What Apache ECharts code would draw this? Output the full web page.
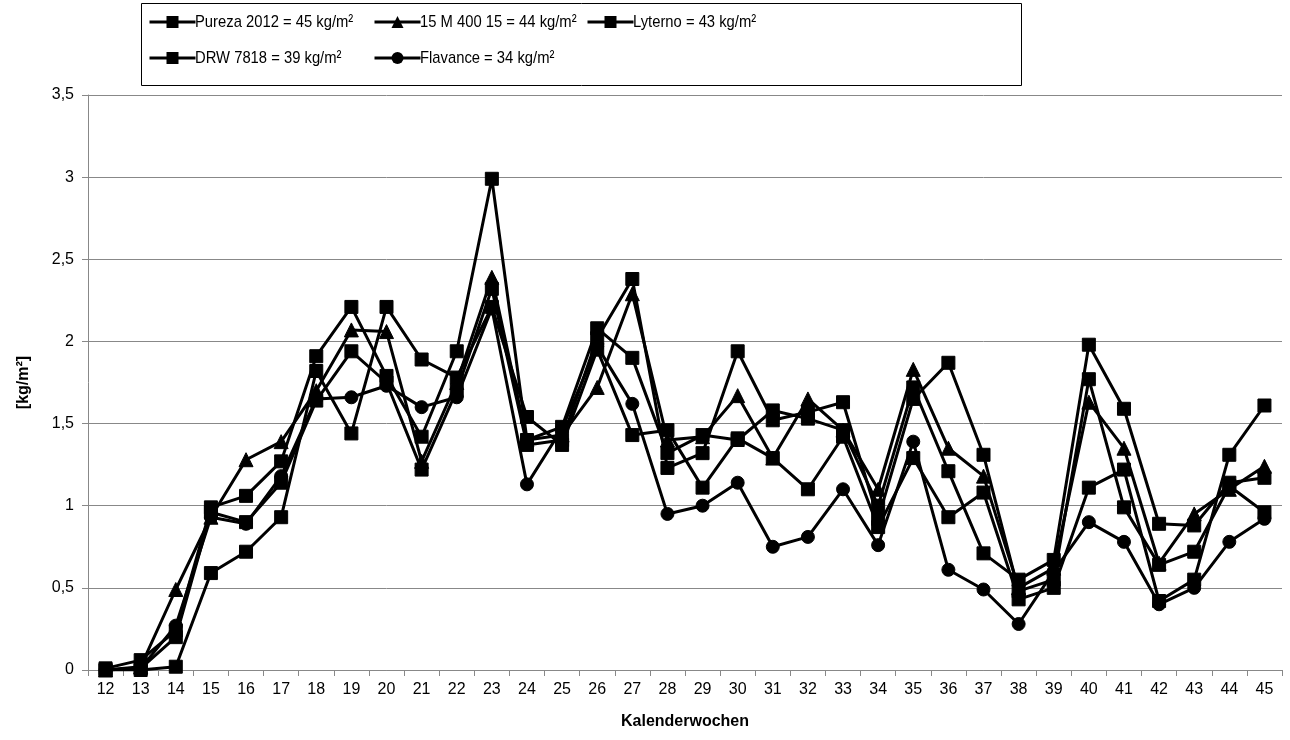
<!DOCTYPE html>
<html>
<head>
<meta charset="utf-8">
<script src="https://cdn.jsdelivr.net/npm/echarts@6/dist/echarts.min.js"></script>
<style>
  html, body { margin: 0; padding: 0; background: #fff; }
  #chart { width: 1290px; height: 740px; }
</style>
</head>
<body>
<div id="chart"></div>
<script>
// Calendar weeks on the x axis
const weeks = ['12','13','14','15','16','17','18','19','20','21','22','23','24','25','26','27','28',
               '29','30','31','32','33','34','35','36','37','38','39','40','41','42','43','44','45'];

// Weekly yield per variety [kg/m²]
const pureza   = [0.01,0.06,0.24,0.99,1.06,1.27,1.91,2.21,1.79,1.42,1.94,2.99,1.40,1.48,2.08,1.90,1.32,
                  1.43,1.40,1.58,1.53,1.46,1.00,1.72,1.21,0.71,0.55,0.67,1.98,1.59,0.89,0.88,1.14,1.17];
const m400     = [0.00,0.02,0.49,0.93,1.28,1.39,1.70,2.07,2.06,1.27,1.75,2.39,1.40,1.43,1.72,2.29,1.40,
                  1.42,1.67,1.29,1.65,1.46,1.10,1.83,1.35,1.18,0.50,0.62,1.63,1.35,0.65,0.95,1.10,1.24];
const lyterno  = [0.00,0.01,0.20,0.96,0.90,1.14,1.64,1.94,1.75,1.22,1.70,2.32,1.37,1.40,2.02,2.38,1.23,
                  1.32,1.94,1.52,1.57,1.63,0.92,1.65,1.87,1.31,0.48,0.55,1.77,0.99,0.64,0.72,1.12,0.96];
const drw      = [0.00,0.00,0.02,0.59,0.72,0.93,1.82,1.44,2.21,1.89,1.78,2.21,1.54,1.37,1.95,1.43,1.46,
                  1.11,1.41,1.29,1.10,1.42,0.87,1.29,0.93,1.08,0.43,0.50,1.11,1.22,0.42,0.55,1.31,1.61];
const flavance = [0.00,0.01,0.27,0.93,0.89,1.18,1.65,1.66,1.73,1.60,1.66,2.20,1.13,1.47,1.97,1.62,0.95,
                  1.00,1.14,0.75,0.81,1.10,0.76,1.39,0.61,0.49,0.28,0.60,0.90,0.78,0.40,0.50,0.78,0.92];

const names = ['Pureza 2012 = 45 kg/m²', '15 M 400 15 = 44 kg/m²', 'Lyterno = 43 kg/m²',
               'DRW 7818 = 39 kg/m²', 'Flavance = 34 kg/m²'];
const values = [pureza, m400, lyterno, drw, flavance];
const symbols = ['rect', 'triangle', 'rect', 'rect', 'circle'];
const symbolSizes = [13, 14, 13, 13, 13];

const FONT = '"Liberation Sans", Arial, sans-serif';
const chart = echarts.init(document.getElementById('chart'), null, { renderer: 'canvas' });

// legend slots (two rows, three columns): icon left edge, row centre
const legendPos = [[148, 22], [373, 22], [586, 22], [148, 58], [373, 58]];

// legend labels set in a condensed face (horizontally squeezed text)
const legendLabels = names.map((n, i) => ({
  type: 'text',
  x: legendPos[i][0] + 47,
  y: legendPos[i][1],
  scaleX: 0.87,
  silent: true,
  style: {
    text: n,
    fontFamily: FONT,
    fontSize: 17,
    fill: '#000',
    verticalAlign: 'middle',
    align: 'left'
  }
}));

const option = {
  animation: false,
  backgroundColor: '#ffffff',
  grid: { left: 88, right: 8, top: 95, bottom: 70, containLabel: false },
  legend: names.map((n, i) => ({
    data: [n],
    left: legendPos[i][0],
    top: legendPos[i][1] - 7.5,
    itemWidth: 46,
    itemHeight: 15,
    itemGap: 0,
    padding: 0,
    formatter: () => '',
    lineStyle: { width: 3, color: '#000' },
    itemStyle: { color: '#000' },
    textStyle: { fontFamily: FONT, fontSize: 16, color: '#000' },
    selectedMode: false
  })),
  graphic: [{
    type: 'rect',
    shape: { x: 141.5, y: 3.5, width: 880, height: 82 },
    style: { fill: 'none', stroke: '#000', lineWidth: 1 },
    z: -1
  }].concat(legendLabels),
  xAxis: {
    type: 'category',
    data: weeks,
    boundaryGap: true,
    name: 'Kalenderwochen',
    nameLocation: 'middle',
    nameGap: 44,
    nameTextStyle: { fontFamily: FONT, fontSize: 16, fontWeight: 'bold', color: '#000' },
    axisLine: { lineStyle: { color: '#888', width: 1 } },
    axisTick: { show: true, alignWithLabel: false, length: 6, inside: false, lineStyle: { color: '#888' } },
    axisLabel: { fontFamily: FONT, fontSize: 16, color: '#000', margin: 12, interval: 0 },
    splitLine: { show: false }
  },
  yAxis: {
    type: 'value',
    min: 0,
    max: 3.5,
    interval: 0.5,
    name: '[kg/m²]',
    nameLocation: 'middle',
    nameGap: 56,
    nameRotate: 90,
    nameTextStyle: { fontFamily: FONT, fontSize: 16, fontWeight: 'bold', color: '#000' },
    axisLine: { show: true, lineStyle: { color: '#888', width: 1 } },
    axisTick: { show: true, length: 6, lineStyle: { color: '#888' } },
    axisLabel: {
      fontFamily: FONT, fontSize: 16, color: '#000', margin: 14,
      formatter: v => String(v).replace('.', ',')
    },
    splitLine: { show: true, lineStyle: { color: '#888', width: 1 } }
  },
  series: names.map((n, i) => ({
    name: n,
    type: 'line',
    data: values[i],
    symbol: symbols[i],
    symbolSize: symbolSizes[i],
    showAllSymbol: true,
    lineStyle: { color: '#000', width: 3 },
    itemStyle: { color: '#000', borderColor: '#000' },
    emphasis: { disabled: true }
  }))
};

chart.setOption(option);
</script>
</body>
</html>
